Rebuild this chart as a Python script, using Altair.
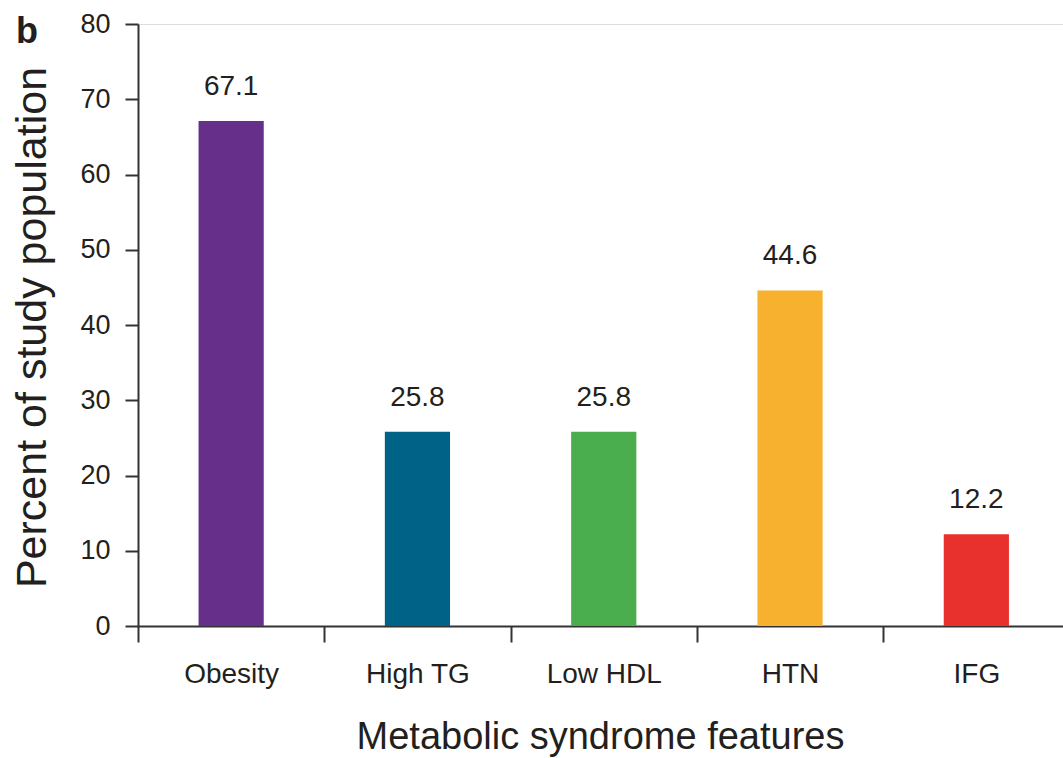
import altair as alt
import pandas as pd

categories = ["Obesity", "High TG", "Low HDL", "HTN", "IFG"]
values = [67.1, 25.8, 25.8, 44.6, 12.2]
labels = ["67.1", "25.8", "25.8", "44.6", "12.2"]
colors = ["#66308A", "#006286", "#4AAD4E", "#F8B02F", "#E8312D"]
y_ticks = [0, 10, 20, 30, 40, 50, 60, 70, 80]
panel_label = ["b"]

df = pd.DataFrame({"feature": categories, "percent": values, "label": labels})
df_panel = pd.DataFrame({"t": panel_label})

FONT = "Liberation Sans, Arial, sans-serif"
INK = "#231f20"
AX = "#333333"

x = alt.X(
    "feature:N",
    sort=categories,
    scale=alt.Scale(range=[0, 931.5], paddingInner=0, paddingOuter=0),
    axis=alt.Axis(
        title="Metabolic syndrome features",
        tickBand="extent",
        labelAngle=0,
        labelFont=FONT,
        labelFontSize=28,
        labelColor=INK,
        labelPadding=18,
        tickSize=16,
        tickColor=AX,
        tickWidth=2,
        domainColor=AX,
        domainWidth=2,
        titleFont=FONT,
        titleFontSize=38,
        titleFontWeight="normal",
        titleColor=INK,
        titleX=462,
        titleY=122,
        titleBaseline="alphabetic",
        grid=False,
    ),
)

y = alt.Y(
    "percent:Q",
    scale=alt.Scale(domain=[0, 80], nice=False),
    axis=alt.Axis(
        values=y_ticks,
        title="Percent of study population",
        labelFont=FONT,
        labelFontSize=27,
        labelColor=INK,
        labelPadding=15,
        tickSize=13,
        tickColor=AX,
        tickWidth=2,
        domainColor=AX,
        domainWidth=2,
        titleFont=FONT,
        titleFontSize=43,
        titleFontWeight="normal",
        titleColor=INK,
        titleAngle=270,
        titleX=-93,
        titleY=303,
        titleBaseline="alphabetic",
        grid=False,
    ),
)

bars = alt.Chart(df).mark_bar(width=alt.RelativeBandSize(0.35)).encode(
    x=x,
    y=y,
    color=alt.Color(
        "feature:N",
        scale=alt.Scale(domain=categories, range=colors),
        legend=None,
    ),
)

text = alt.Chart(df).mark_text(
    dy=-26, baseline="alphabetic", font=FONT, fontSize=28, color=INK
).encode(x=x, y=y, text="label:N")

panel = alt.Chart(df_panel).mark_text(
    align="left", baseline="alphabetic", font=FONT, fontSize=36,
    fontWeight="bold", color=INK
).encode(text="t:N", x=alt.value(-122), y=alt.value(19))

chart = (
    alt.layer(bars, text, panel)
    .properties(
        width=925,
        height=602,
        autosize=alt.AutoSizeParams(type="none"),
        padding={"left": 138, "top": 24, "right": 0, "bottom": 132},
    )
    .configure_view(stroke=None)
    .configure(background="white")
)

chart.save("out.html", embed_options={"renderer": "svg", "actions": False})
